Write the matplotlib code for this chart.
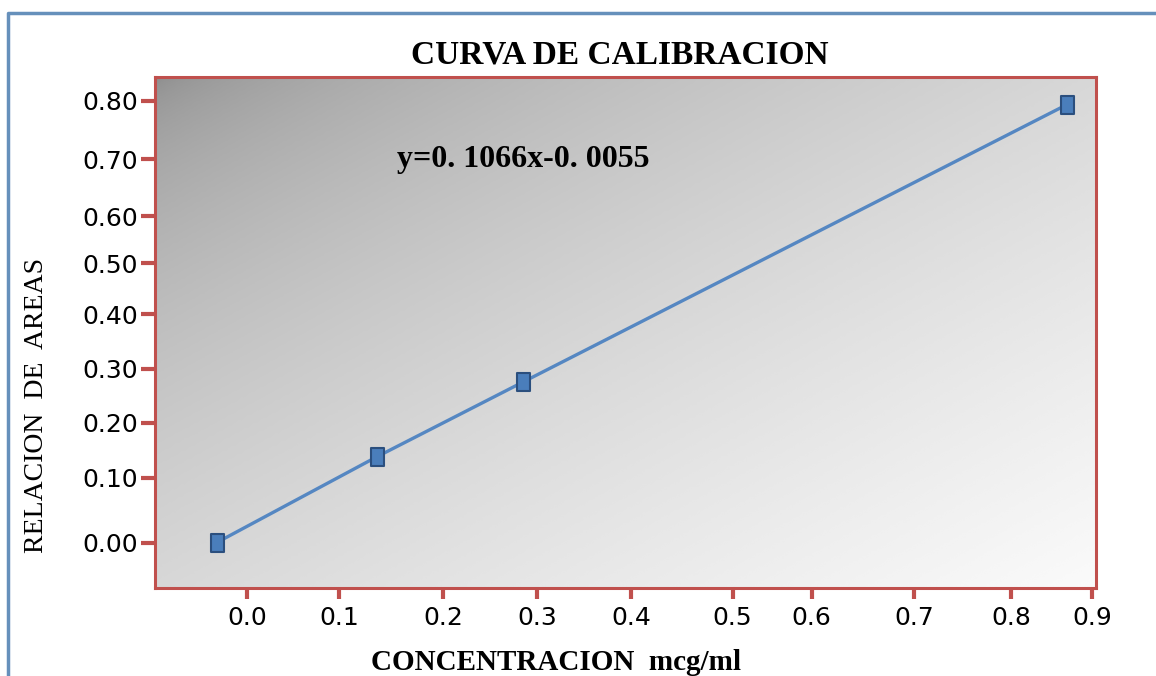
import numpy as np
import matplotlib
matplotlib.use('Agg')
import matplotlib.pyplot as plt
from matplotlib.path import Path

# datos (concentracion vs relacion de areas)
concentracion = [-0.033, 0.136, 0.285, 0.869]
relacion_areas = [0.0, 0.138, 0.276, 0.793]

x_ticks = [0.0, 0.1, 0.2, 0.3, 0.4, 0.5, 0.6, 0.7, 0.8, 0.9]
y_ticks = [0.0, 0.1, 0.2, 0.3, 0.4, 0.5, 0.6, 0.7, 0.8]

# los ejes del original no son regulares: calibracion de cada marca
x_cal = [248, 340, 444, 538, 632, 733, 812, 914, 1011, 1092]
y_cal = [-543, -478, -423, -369, -314, -263, -216, -159, -100]

ecuacion = 'y=0. 1066x-0. 0055'
titulo = 'CURVA DE CALIBRACION'

rojo = '#c0504d'
azul = '#4a7ebb'


def escala(vals, pos):
    vals = np.asarray(vals, float)
    pos = np.asarray(pos, float)

    def mapa(v, a, b):
        v = np.asarray(v, float)
        out = np.interp(v, a, b)
        s0 = (b[1] - b[0]) / (a[1] - a[0])
        s1 = (b[-1] - b[-2]) / (a[-1] - a[-2])
        out = np.where(v < a[0], b[0] + (v - a[0]) * s0, out)
        out = np.where(v > a[-1], b[-1] + (v - a[-1]) * s1, out)
        return out

    return (lambda v: mapa(v, vals, pos)), (lambda p: mapa(p, pos, vals))


plt.rcParams['font.family'] = ['DejaVu Sans']

fig = plt.figure(figsize=(11.56, 6.76), dpi=100)
ax = fig.add_axes([155 / 1156, 1 - 588 / 676, 941 / 1156, 511 / 676])

ax.set_xscale('function', functions=escala(x_ticks, x_cal))
ax.set_yscale('function', functions=escala(y_ticks, y_cal))

# fondo degradado gris (oscuro arriba a la izquierda)
gx, gy = np.meshgrid(np.linspace(0, 1, 300), np.linspace(0, 1, 200))
t = (gx + gy) / 2
grad = (140 + 110 * t ** 0.55) / 255
ax.imshow(grad, extent=[0, 1, 0, 1], transform=ax.transAxes, origin='upper',
          aspect='auto', cmap='gray', vmin=0, vmax=1, zorder=0,
          interpolation='bicubic')

rect = Path([(-0.36, -0.5), (0.36, -0.5), (0.36, 0.5), (-0.36, 0.5), (-0.36, -0.5)],
            [Path.MOVETO, Path.LINETO, Path.LINETO, Path.LINETO, Path.CLOSEPOLY])
ax.plot(concentracion, relacion_areas, color='#5587c2', lw=2.4, zorder=3)
ax.plot(concentracion, relacion_areas, ls='none', marker=rect, ms=13,
        mfc=azul, mec='#2b4f7e', mew=1.5, zorder=4)

ax.set_xlim(-0.10, 0.905)
ax.set_ylim(-0.07, 0.84)

ax.set_xticks(x_ticks)
ax.set_xticklabels(['%.1f' % v for v in x_ticks])
ax.set_yticks(y_ticks)
ax.set_yticklabels(['%.2f' % v for v in y_ticks])
ax.minorticks_off()

for s in ax.spines.values():
    s.set_color(rojo)
    s.set_linewidth(2.2)
ax.tick_params(axis='y', direction='out', length=10, width=3, color=rojo,
               labelsize=18, pad=2)
ax.tick_params(axis='x', direction='out', length=8, width=3, color=rojo,
               labelsize=18, pad=5)

ax.text(0.257, 0.838, ecuacion, transform=ax.transAxes, ha='left', va='center',
        family='Liberation Serif', weight='bold', fontsize=23, zorder=5)

fig.text(620 / 1156, 1 - 55 / 676, titulo, ha='center', va='center',
         family='Liberation Serif', weight='bold', fontsize=24)
fig.text(556 / 1156, 1 - 662 / 676, 'CONCENTRACION  mcg/ml', ha='center', va='center',
         family='Liberation Serif', weight='bold', fontsize=21)
fig.text(37 / 1156, 1 - 405 / 676, 'RELACION  DE  AREAS', ha='center', va='center',
         rotation=90, family='Liberation Serif', fontsize=20)

# marco azul exterior (izquierda y arriba)
fig.add_artist(plt.Line2D([8 / 1156, 8 / 1156, 1], [0, 1 - 13 / 676, 1 - 13 / 676],
                          transform=fig.transFigure, color='#6690bb', lw=2.5))

fig.savefig('out.png', dpi=100)
